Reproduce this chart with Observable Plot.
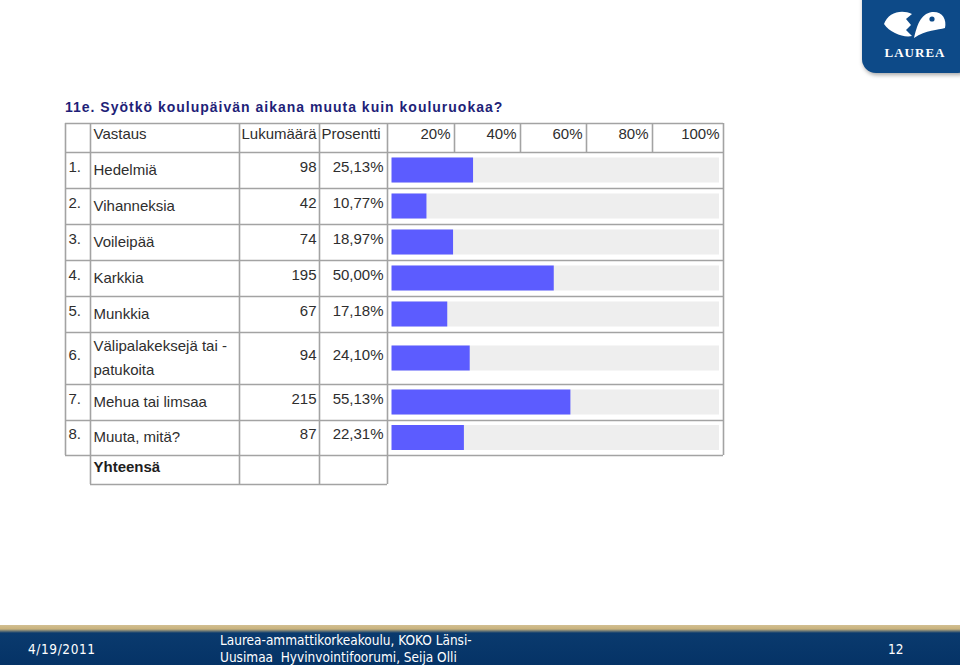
<!DOCTYPE html>
<html><head><meta charset="utf-8">
<script src="https://cdn.jsdelivr.net/npm/d3@7"></script>
<script src="https://cdn.jsdelivr.net/npm/@observablehq/plot@0.6"></script>
<style>
html,body{margin:0;padding:0;background:#fff;}
body{width:960px;height:665px;overflow:hidden;position:relative;font-family:"Liberation Sans",Arial,sans-serif;}
#title{position:absolute;left:65px;top:98px;font-size:14px;line-height:18px;font-weight:bold;color:#1f1f78;letter-spacing:1.0px;white-space:nowrap;}
.layer{position:absolute;left:0;top:0;}
#footer{position:absolute;left:0;top:625px;width:960px;height:40px;background:linear-gradient(to bottom,#d2bf92 0px,#c9b27c 4px,#0a3a6e 8px,#053366 100%);color:#fff;font-family:"Liberation Sans Narrow","DejaVu Sans Condensed","Liberation Sans",sans-serif;font-size:13.5px;}
#footer div{position:absolute;white-space:nowrap;}
#logo{position:absolute;left:862px;top:-14px;width:110px;height:87px;border-radius:14px;background:#0d4a88;box-shadow:1px 2px 4px rgba(0,0,0,0.35);}
#logosvg{position:absolute;left:862px;top:0;}
</style></head>
<body>
<div id="logo"></div>
<svg id="logosvg" width="98" height="73">
  <path d="M50 14 C40 9 26 12 22 24 C28 33 42 38 50 36 L44 30 L49 25 L44 19 Z" fill="#fff"/>
  <path d="M52 38 C55 26 58 14 70 12 C80 11 85 19 83 28 C76 30 64 30 52 38 Z" fill="#fff"/>
  <circle cx="70" cy="19" r="2.6" fill="#0d4a88"/>
  <text x="53" y="57" text-anchor="middle" fill="#fff" font-family="Liberation Serif, DejaVu Serif, serif" font-size="13" font-weight="bold" letter-spacing="1">LAUREA</text>
</svg>
<div id="title"></div>
<div id="table" class="layer"></div>
<div id="bars" class="layer"></div>
<div id="footer">
  <div style="left:28px;top:16px;letter-spacing:0.6px;">4/19/2011</div>
  <div style="left:220px;top:7px;">Laurea-ammattikorkeakoulu, KOKO Länsi-</div>
  <div style="left:220px;top:24px;">Uusimaa&nbsp; Hyvinvointifoorumi, Seija Olli</div>
  <div style="left:888px;top:16px;">12</div>
</div>
<script>
// ---- data ----
const title = "11e. Syötkö koulupäivän aikana muuta kuin kouluruokaa?";
const numbers = ["1.","2.","3.","4.","5.","6.","7.","8."];
const answers = ["Hedelmiä","Vihanneksia","Voileipää","Karkkia","Munkkia","Välipalakeksejä tai -\npatukoita","Mehua tai limsaa","Muuta, mitä?"];
const counts = [98, 42, 74, 195, 67, 94, 215, 87];
const percents = [25.13, 10.77, 18.97, 50.00, 17.18, 24.10, 55.13, 22.31];
const headers = ["Vastaus", "Lukumäärä", "Prosentti"];
const scaleLabels = ["20%", "40%", "60%", "80%", "100%"];
const totalLabel = "Yhteensä";

// ---- layout ----
const top0 = 123;
const heights = [29, 36, 36, 36, 36, 36, 52, 36, 35, 29]; // header, rows 1-8, total
const edges = [top0];
heights.forEach(h => edges.push(edges[edges.length - 1] + h));
const cols = [65, 90, 239, 319, 387, 723];
const scaleCols = [387, 454, 520, 586, 652, 723];
const lineColor = "#a3a3a3";
const textColor = "#2e2e2e";
const font = "Liberation Sans, Arial, sans-serif";
const fs = 15;

document.getElementById("title").textContent = title;

const fmtPct = v => v.toFixed(2).replace(".", ",") + "%";
const rows = answers.map((a, i) => ({
  nr: numbers[i], answer: a, count: counts[i], pct: percents[i],
  top: edges[i + 1], bottom: edges[i + 2], mid: (edges[i + 1] + edges[i + 2]) / 2
}));
const headerMid = (edges[0] + edges[1]) / 2;
const totalMid = (edges[9] + edges[10]) / 2;

// lines
const hLines = edges.slice(0, 10).map(y => ({y, x1: cols[0], x2: cols[5]}));
hLines.push({y: edges[10], x1: cols[1], x2: cols[4]});
const vLines = [
  {x: cols[0], y1: edges[0], y2: edges[9]},
  {x: cols[1], y1: edges[0], y2: edges[10]},
  {x: cols[2], y1: edges[0], y2: edges[10]},
  {x: cols[3], y1: edges[0], y2: edges[10]},
  {x: cols[4], y1: edges[0], y2: edges[10]},
  ...scaleCols.slice(1, 5).map(x => ({x, y1: edges[0], y2: edges[1]})),
  {x: cols[5], y1: edges[0], y2: edges[9]}
];
const headerCells = [
  {t: headers[0], x: cols[1] + 3},
  {t: headers[1], x: cols[2] + 2},
  {t: headers[2], x: cols[3] + 2}
];
const scaleCells = scaleLabels.map((t, i) => ({t, x: scaleCols[i + 1] - 4}));

const txt = {fontSize: fs, fontFamily: font, fill: textColor, lineAnchor: "middle", dy: -3.5};

const tablePlot = Plot.plot({
  width: 960, height: 620, margin: 0,
  x: {type: "identity", axis: null}, y: {type: "identity", axis: null},
  style: {background: "transparent", overflow: "visible"},
  marks: [
    Plot.rect(rows, {x1: () => 392, x2: () => 719, y1: d => d.mid - 12.5, y2: d => d.mid + 12.5, fill: "#eeeeee"}),
    Plot.ruleY(hLines, {y: "y", x1: "x1", x2: "x2", stroke: lineColor, strokeWidth: 1.6}),
    Plot.ruleX(vLines, {x: "x", y1: "y1", y2: "y2", stroke: lineColor, strokeWidth: 1.6}),
    Plot.text(headerCells, {x: "x", y: () => headerMid, text: "t", textAnchor: "start", ...txt}),
    Plot.text(scaleCells, {x: "x", y: () => headerMid, text: "t", textAnchor: "end", ...txt}),
    Plot.text(rows, {x: () => cols[0] + 3, y: "mid", text: "nr", textAnchor: "start", ...txt}),
    Plot.text(rows, {x: () => cols[1] + 3, y: "mid", text: "answer", textAnchor: "start", lineHeight: 1.6, ...txt}),
    Plot.text(rows, {x: () => cols[3] - 3, y: "mid", text: d => String(d.count), textAnchor: "end", ...txt}),
    Plot.text(rows, {x: () => cols[4] - 4, y: "mid", text: d => fmtPct(d.pct), textAnchor: "end", ...txt}),
    Plot.text([totalLabel], {x: () => cols[1] + 3, y: () => totalMid, text: d => d, textAnchor: "start", ...txt, fontWeight: "bold", fill: "#1e1e1e", dy: -2.5})
  ]
});
document.getElementById("table").append(tablePlot);

const barPlot = Plot.plot({
  width: 960, height: 620, margin: 0,
  x: {domain: [0, 100], range: [391.5, 716], axis: null},
  y: {type: "identity", axis: null},
  style: {background: "transparent", overflow: "visible"},
  marks: [
    Plot.rect(rows, {x1: () => 0, x2: "pct", y1: d => d.mid - 12.5, y2: d => d.mid + 12.5, fill: "#5c5cff"})
  ]
});
document.getElementById("bars").append(barPlot);
</script>
</body></html>
